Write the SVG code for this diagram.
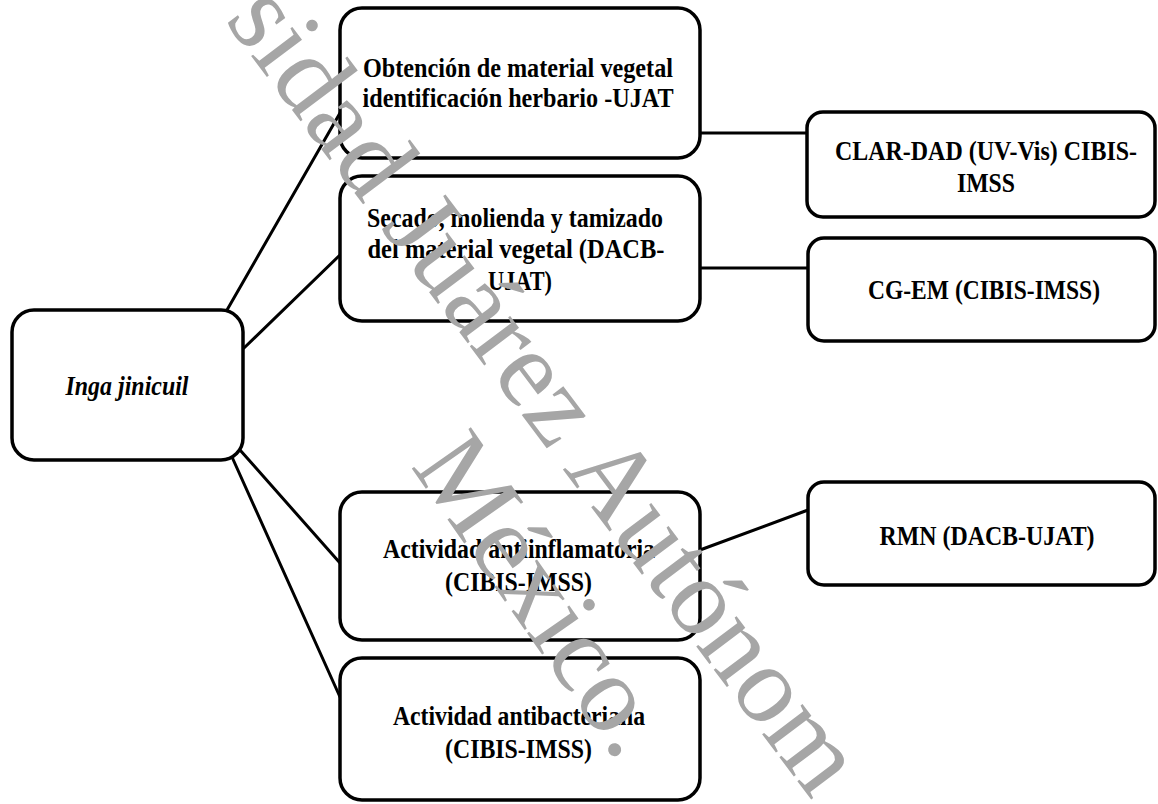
<svg xmlns="http://www.w3.org/2000/svg" width="1158" height="804" viewBox="0 0 1158 804">
<style>
.box{fill:#fff;stroke:#000;stroke-width:3.5}
.t{font-family:"Liberation Serif","Times New Roman",serif;font-weight:bold;font-size:27px;fill:#000;text-anchor:middle}
.it{font-style:italic}
.conn line{stroke:#000;stroke-width:3;stroke-linecap:round}
.wm{font-family:"Liberation Serif","Times New Roman",serif;font-size:110px;fill:#a6a6a6}
</style>
<rect width="1158" height="804" fill="#fff"/>
<g id="connectors" class="conn">
<line x1="227" y1="310" x2="340" y2="113"/>
<line x1="244" y1="348" x2="340" y2="255"/>
<line x1="240" y1="450" x2="340" y2="563"/>
<line x1="232" y1="457" x2="340" y2="697"/>
<line x1="700" y1="133" x2="807" y2="133"/>
<line x1="700" y1="268" x2="808" y2="268"/>
<line x1="700" y1="550" x2="808" y2="510"/>
</g>
<g id="root">
<rect class="box" x="12" y="310" width="231" height="150" rx="22"/>
<text class="t it" x="127" y="395" textLength="123" lengthAdjust="spacingAndGlyphs">Inga jinicuil</text>
</g>
<g id="obtencion">
<rect class="box" x="340" y="8" width="360" height="150" rx="22"/>
<text class="t" x="518" y="77" textLength="310" lengthAdjust="spacingAndGlyphs">Obtención de material vegetal</text>
<text class="t" x="518" y="107" textLength="311" lengthAdjust="spacingAndGlyphs">identificación herbario -UJAT</text>
</g>
<g id="secado">
<rect class="box" x="340" y="176" width="360" height="145" rx="22"/>
<text class="t" x="515" y="227" textLength="296" lengthAdjust="spacingAndGlyphs">Secado, molienda y tamizado</text>
<text class="t" x="516" y="258" textLength="297" lengthAdjust="spacingAndGlyphs">del material vegetal (DACB-</text>
<text class="t" x="520" y="290" textLength="64" lengthAdjust="spacingAndGlyphs">UJAT)</text>
</g>
<g id="clar">
<rect class="box" x="807" y="112" width="348" height="105" rx="16"/>
<text class="t" x="986" y="160" textLength="302" lengthAdjust="spacingAndGlyphs">CLAR-DAD (UV-Vis) CIBIS-</text>
<text class="t" x="986" y="192" textLength="58" lengthAdjust="spacingAndGlyphs">IMSS</text>
</g>
<g id="cgem">
<rect class="box" x="808" y="238" width="347" height="103" rx="16"/>
<text class="t" x="984" y="299" textLength="232" lengthAdjust="spacingAndGlyphs">CG-EM (CIBIS-IMSS)</text>
</g>
<g id="antiinflamatoria">
<rect class="box" x="340" y="492" width="360" height="148" rx="22"/>
<text class="t" x="519" y="558" textLength="272" lengthAdjust="spacingAndGlyphs">Actividad antiinflamatoria</text>
<text class="t" x="518.5" y="591" textLength="147" lengthAdjust="spacingAndGlyphs">(CIBIS-IMSS)</text>
</g>
<g id="rmn">
<rect class="box" x="808" y="482" width="347" height="103" rx="16"/>
<text class="t" x="987" y="545" textLength="215" lengthAdjust="spacingAndGlyphs">RMN (DACB-UJAT)</text>
</g>
<g id="antibacteriana">
<rect class="box" x="340" y="658" width="360" height="142" rx="22"/>
<text class="t" x="519" y="725" textLength="252" lengthAdjust="spacingAndGlyphs">Actividad antibacteriana</text>
<text class="t" x="518.5" y="758" textLength="147" lengthAdjust="spacingAndGlyphs">(CIBIS-IMSS)</text>
</g>
<g id="watermark">
<text class="wm" transform="translate(224,20) rotate(53)">sidad Juárez Autónom</text>
<text class="wm" transform="translate(410,466) rotate(55)">México.</text>
</g>
</svg>
